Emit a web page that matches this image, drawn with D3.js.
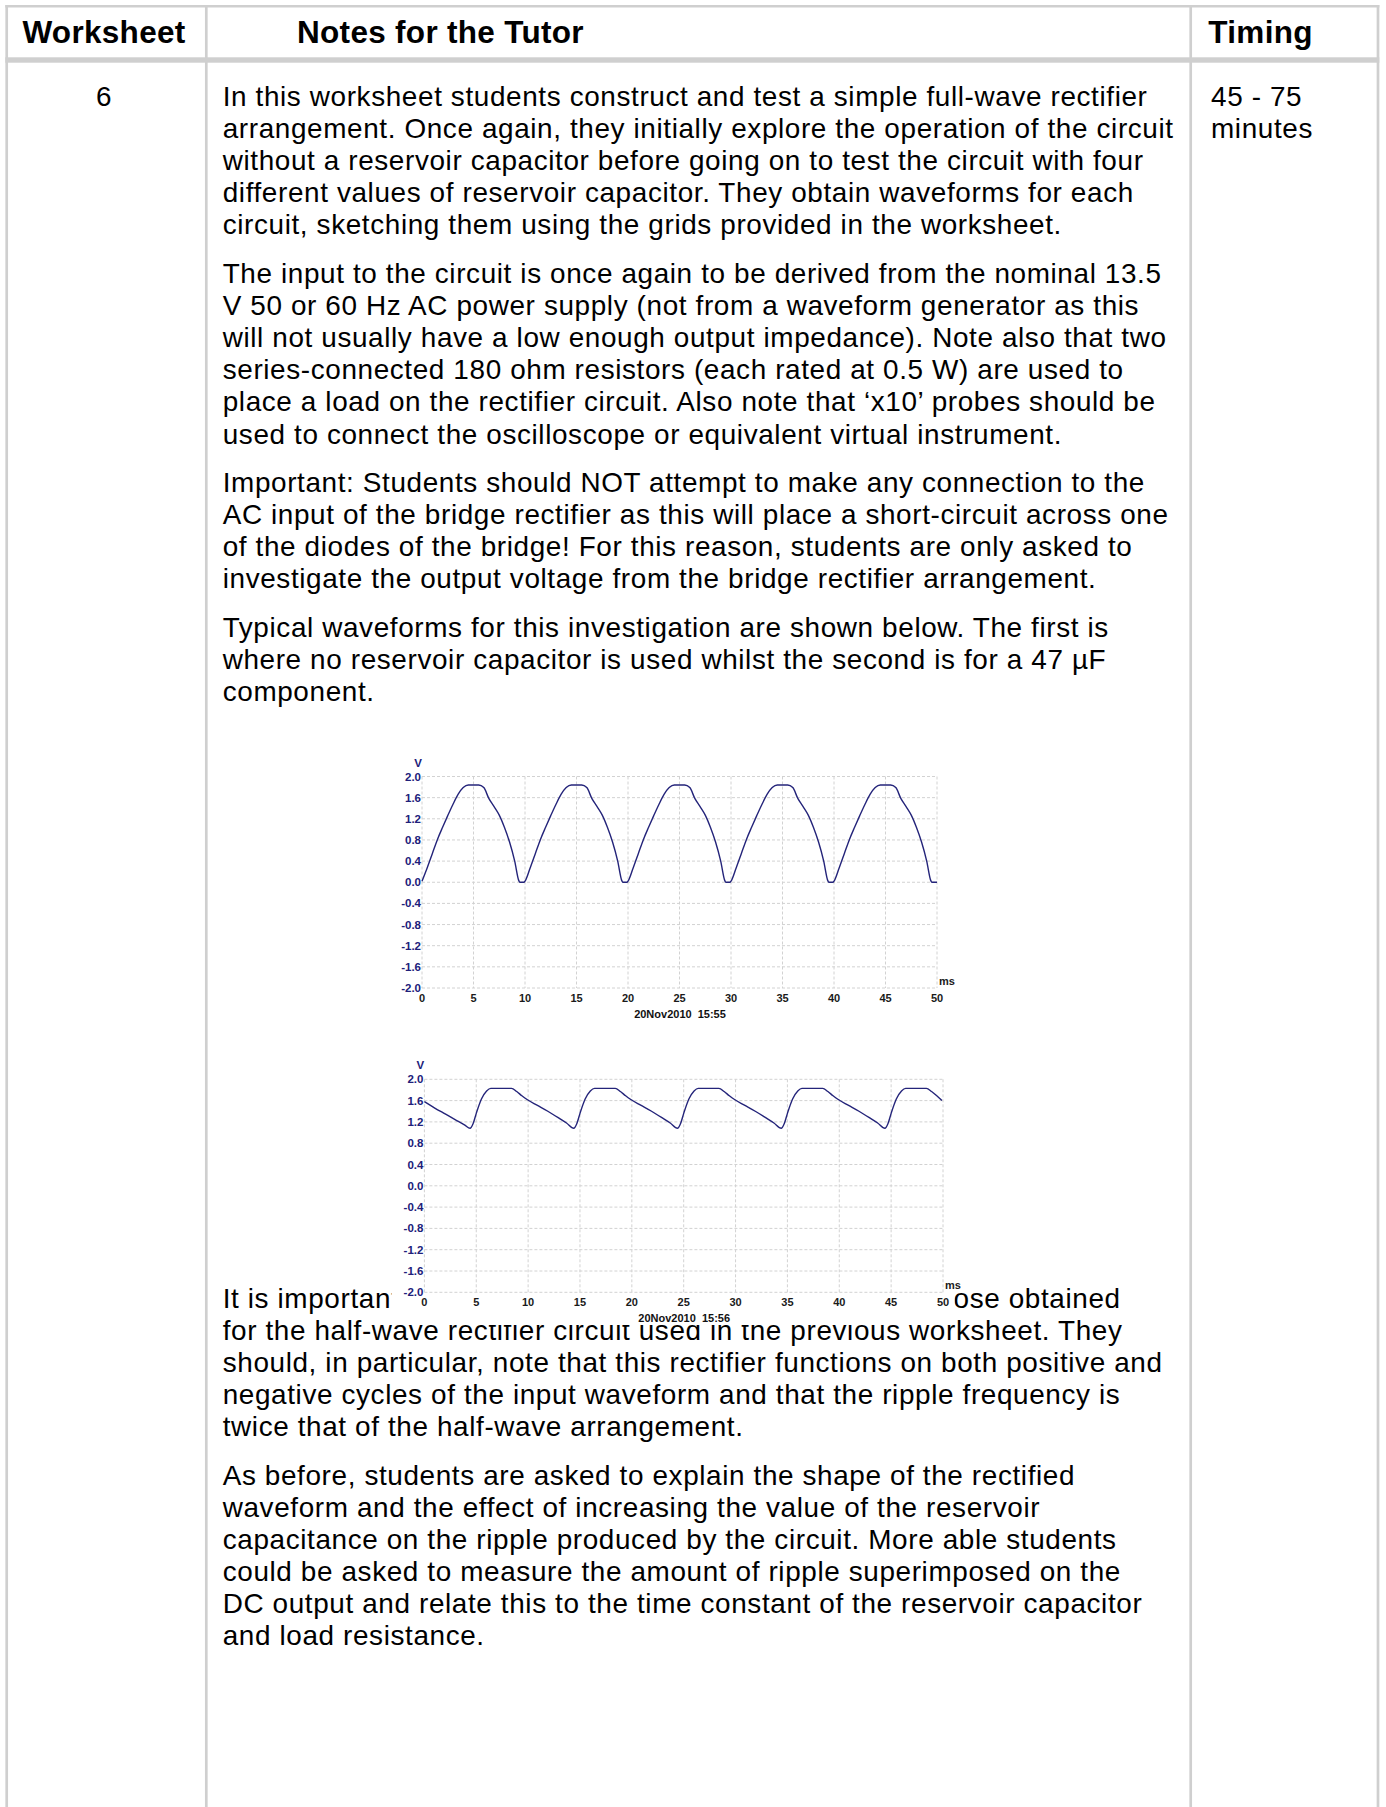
<!DOCTYPE html>
<html>
<head>
<meta charset="utf-8" />
<title>Worksheet 6 - Notes for the Tutor</title>
<script src="https://d3js.org/d3.v7.min.js"></script>
<style>
  body { margin: 0; background: #fff; }
  svg text { font-family: "Liberation Sans", Arial, sans-serif; }
  .body-text { font-size: 27.9px; letter-spacing: 0.62px; fill: #000; }
  .head-text { font-size: 31.5px; letter-spacing: 0.3px; font-weight: bold; fill: #000; }
  .tick-y { font-size: 11.5px; font-weight: bold; fill: #20207a; }
  .tick-x { font-size: 11px; font-weight: bold; fill: #1a1a1a; }
  .scope-note { font-size: 11px; font-weight: bold; fill: #111; }
</style>
</head>
<body>
<div id="page"></div>

<script>
// ---- text of the table ----
var headers = ["Worksheet", "Notes for the Tutor", "Timing"];
var worksheetNo = "6";
var timingLines = ["45 - 75", "minutes"];

var paraTop = [
  ["In this worksheet students construct and test a simple full-wave rectifier",
   "arrangement. Once again, they initially explore the operation of the circuit",
   "without a reservoir capacitor before going on to test the circuit with four",
   "different values of reservoir capacitor. They obtain waveforms for each",
   "circuit, sketching them using the grids provided in the worksheet."],
  ["The input to the circuit is once again to be derived from the nominal 13.5",
   "V 50 or 60 Hz AC power supply (not from a waveform generator as this",
   "will not usually have a low enough output impedance). Note also that two",
   "series-connected 180 ohm resistors (each rated at 0.5 W) are used to",
   "place a load on the rectifier circuit. Also note that \u2018x10\u2019 probes should be",
   "used to connect the oscilloscope or equivalent virtual instrument."],
  ["Important: Students should NOT attempt to make any connection to the",
   "AC input of the bridge rectifier as this will place a short-circuit across one",
   "of the diodes of the bridge! For this reason, students are only asked to",
   "investigate the output voltage from the bridge rectifier arrangement."],
  ["Typical waveforms for this investigation are shown below. The first is",
   "where no reservoir capacitor is used whilst the second is for a 47 \u00b5F",
   "component."]
];

// first line of this block is partly hidden by the second scope picture
var hiddenLineLeft = "It is important";
var hiddenLineRight = "those obtained";
var paraBottom = [
  ["for the half-wave rectifier circuit used in the previous worksheet. They",
   "should, in particular, note that this rectifier functions on both positive and",
   "negative cycles of the input waveform and that the ripple frequency is",
   "twice that of the half-wave arrangement."],
  ["As before, students are asked to explain the shape of the rectified",
   "waveform and the effect of increasing the value of the reservoir",
   "capacitance on the ripple produced by the circuit. More able students",
   "could be asked to measure the amount of ripple superimposed on the",
   "DC output and relate this to the time constant of the reservoir capacitor",
   "and load resistance."]
];

// ---- oscilloscope data (ms, V) ----
var xTicks = [0, 5, 10, 15, 20, 25, 30, 35, 40, 45, 50];
var yTicks = [2.0, 1.6, 1.2, 0.8, 0.4, 0.0, -0.4, -0.8, -1.2, -1.6, -2.0];

// no reservoir capacitor
var timeA = [
  0, 0.5, 1, 1.5, 2, 2.5, 3, 3.5, 4, 4.5, 5.5, 6, 6.5, 7, 7.5, 8, 8.5, 9, 9.4, 9.5, 9.9,
  10, 10.5, 11, 11.5, 12, 12.5, 13, 13.5, 14, 14.5, 15.5, 16, 16.5, 17, 17.5, 18, 18.5, 19, 19.4, 19.5, 19.9,
  20, 20.5, 21, 21.5, 22, 22.5, 23, 23.5, 24, 24.5, 25.5, 26, 26.5, 27, 27.5, 28, 28.5, 29, 29.4, 29.5, 29.9,
  30, 30.5, 31, 31.5, 32, 32.5, 33, 33.5, 34, 34.5, 35.5, 36, 36.5, 37, 37.5, 38, 38.5, 39, 39.4, 39.5, 39.9,
  40, 40.5, 41, 41.5, 42, 42.5, 43, 43.5, 44, 44.5, 45.5, 46, 46.5, 47, 47.5, 48, 48.5, 49, 49.4, 49.5, 50
];
var voltA = [
  0.02, 0.27, 0.54, 0.81, 1.04, 1.26, 1.47, 1.66, 1.79, 1.84, 1.84, 1.79, 1.58, 1.43, 1.27, 1.04, 0.76, 0.40, 0.03, 0.00, 0.00,
  0.02, 0.27, 0.54, 0.81, 1.04, 1.26, 1.47, 1.66, 1.79, 1.84, 1.84, 1.79, 1.58, 1.43, 1.27, 1.04, 0.76, 0.40, 0.03, 0.00, 0.00,
  0.02, 0.27, 0.54, 0.81, 1.04, 1.26, 1.47, 1.66, 1.79, 1.84, 1.84, 1.79, 1.58, 1.43, 1.27, 1.04, 0.76, 0.40, 0.03, 0.00, 0.00,
  0.02, 0.27, 0.54, 0.81, 1.04, 1.26, 1.47, 1.66, 1.79, 1.84, 1.84, 1.79, 1.58, 1.43, 1.27, 1.04, 0.76, 0.40, 0.03, 0.00, 0.00,
  0.02, 0.27, 0.54, 0.81, 1.04, 1.26, 1.47, 1.66, 1.79, 1.84, 1.84, 1.79, 1.58, 1.43, 1.27, 1.04, 0.76, 0.40, 0.03, 0.00, 0.00
];

// 47 uF reservoir capacitor
var timeB = [
  0, 1, 2, 3, 3.9,
  4.4, 4.7, 5.0, 5.5, 6.0, 6.4, 8.4, 8.9, 9.4, 9.9, 10.9, 11.9, 12.9, 13.7,
  14.4, 14.7, 15.0, 15.5, 16.0, 16.4, 18.4, 18.9, 19.4, 19.9, 20.9, 21.9, 22.9, 23.7,
  24.4, 24.7, 25.0, 25.5, 26.0, 26.4, 28.4, 28.9, 29.4, 29.9, 30.9, 31.9, 32.9, 33.7,
  34.4, 34.7, 35.0, 35.5, 36.0, 36.4, 38.4, 38.9, 39.4, 39.9, 40.9, 41.9, 42.9, 43.7,
  44.4, 44.7, 45.0, 45.5, 46.0, 46.4, 48.4, 48.9, 49.4, 49.9, 50
];
var voltB = [
  1.58, 1.46, 1.35, 1.24, 1.14,
  1.08, 1.17, 1.36, 1.63, 1.78, 1.83, 1.83, 1.77, 1.69, 1.62, 1.51, 1.40, 1.28, 1.18,
  1.08, 1.17, 1.36, 1.63, 1.78, 1.83, 1.83, 1.77, 1.69, 1.62, 1.51, 1.40, 1.28, 1.18,
  1.08, 1.17, 1.36, 1.63, 1.78, 1.83, 1.83, 1.77, 1.69, 1.62, 1.51, 1.40, 1.28, 1.18,
  1.08, 1.17, 1.36, 1.63, 1.78, 1.83, 1.83, 1.77, 1.69, 1.62, 1.51, 1.40, 1.28, 1.18,
  1.08, 1.17, 1.36, 1.63, 1.78, 1.83, 1.83, 1.77, 1.69, 1.60
];

var W = 1386, H = 1807;
var svg = d3.select("#page").append("svg")
  .attr("width", W)
  .attr("height", H);

// ---- table grid ----
var border = "#cfcfcf";
var colX = [6.7, 206.3, 1190.7, 1378];
colX.forEach(function(x) {
  svg.append("line")
    .attr("x1", x).attr("x2", x)
    .attr("y1", 5).attr("y2", H)
    .style("stroke", border).style("stroke-width", 2.7);
});
svg.append("line")
  .attr("x1", 5.3).attr("x2", 1379.4)
  .attr("y1", 6.2).attr("y2", 6.2)
  .style("stroke", border).style("stroke-width", 2.6);
svg.append("rect")
  .attr("x", 5.3).attr("width", 1374)
  .attr("y", 57.3).attr("height", 5.4)
  .style("fill", border);

// ---- header row ----
svg.append("text").attr("class", "head-text")
  .attr("x", 104).attr("y", 43.3).attr("text-anchor", "middle").text(headers[0]);
svg.append("text").attr("class", "head-text")
  .attr("x", 297).attr("y", 43.3).text(headers[1]);
svg.append("text").attr("class", "head-text")
  .attr("x", 1208.3).attr("y", 43.3).text(headers[2]);

// ---- first & last column ----
svg.append("text").attr("class", "body-text")
  .attr("x", 104).attr("y", 106).attr("text-anchor", "middle").text(worksheetNo);
svg.append("g").selectAll("text")
  .data(timingLines).enter().append("text")
  .attr("class", "body-text")
  .attr("x", 1211)
  .attr("y", function(d, i) { return 106 + i * 32.1; })
  .text(function(d) { return d; });

// ---- notes column paragraphs ----
var lineH = 32.1, paraGap = 16.5, textX = 222.7;
function writeParas(paras, startY) {
  var y = startY;
  paras.forEach(function(lines) {
    lines.forEach(function(line) {
      svg.append("text").attr("class", "body-text")
        .attr("x", textX).attr("y", y).text(line);
      y += lineH;
    });
    y += paraGap;
  });
}
writeParas(paraTop, 106);

var bottomY = 1307.7;
svg.append("text").attr("class", "body-text")
  .attr("x", textX).attr("y", bottomY).text(hiddenLineLeft);
svg.append("text").attr("class", "body-text")
  .attr("x", 929).attr("y", bottomY).text(hiddenLineRight);
writeParas(paraBottom, bottomY + lineH);

// ---- oscilloscope pictures ----
function scope(box, plot, times, volts, stamp) {
  var g = svg.append("g");

  // the picture sits on white and hides the text beneath it
  g.append("rect")
    .attr("x", box.x).attr("y", box.y)
    .attr("width", box.w).attr("height", box.h)
    .style("fill", "#fff");

  var x = d3.scaleLinear().domain([0, 50]).range([plot.left, plot.right]);
  var y = d3.scaleLinear().domain([-2, 2]).range([plot.bottom, plot.top]);

  // dashed grid
  g.append("g").selectAll("line")
    .data(xTicks).enter().append("line")
    .attr("x1", function(d) { return x(d); }).attr("x2", function(d) { return x(d); })
    .attr("y1", plot.top).attr("y2", plot.bottom)
    .style("stroke", "#d2d2d2").style("stroke-dasharray", "3,2");
  g.append("g").selectAll("line")
    .data(yTicks).enter().append("line")
    .attr("x1", plot.left).attr("x2", plot.right)
    .attr("y1", function(d) { return y(d); }).attr("y2", function(d) { return y(d); })
    .style("stroke", "#d2d2d2").style("stroke-dasharray", "3,2");

  // tick labels
  g.append("g").selectAll("text")
    .data(yTicks).enter().append("text")
    .attr("class", "tick-y")
    .attr("x", plot.left - 1)
    .attr("y", function(d) { return y(d) + 4; })
    .attr("text-anchor", "end")
    .text(function(d) { return d3.format(".1f")(d).replace("\u2212", "-"); });
  g.append("g").selectAll("text")
    .data(xTicks).enter().append("text")
    .attr("class", "tick-x")
    .attr("x", function(d) { return x(d); })
    .attr("y", plot.bottom + 13.5)
    .attr("text-anchor", "middle")
    .text(function(d) { return d; });

  g.append("text").attr("class", "tick-y")
    .attr("x", plot.left - 4).attr("y", plot.top - 10)
    .attr("text-anchor", "middle").text("V");
  g.append("text").attr("class", "tick-x")
    .attr("x", plot.right + 10).attr("y", plot.bottom - 3)
    .attr("text-anchor", "middle").text("ms");
  g.append("text").attr("class", "scope-note")
    .attr("x", (plot.left + plot.right) / 2 + 0.5).attr("y", plot.bottom + 30)
    .attr("text-anchor", "middle")
    .style("white-space", "pre")
    .text(stamp);

  // trace
  var line = d3.line()
    .x(function(d) { return x(d[0]); })
    .y(function(d) { return y(d[1]); })
    .curve(d3.curveMonotoneX);
  g.append("path")
    .datum(d3.zip(times, volts))
    .attr("d", line)
    .style("fill", "none")
    .style("stroke", "#24247a")
    .style("stroke-width", 1.4);
}

scope({x: 391.5, y: 740, w: 563, h: 290},
      {left: 422, right: 937, top: 776.5, bottom: 988},
      timeA, voltA, "20Nov2010  15:55");
scope({x: 391.5, y: 1040, w: 563, h: 285},
      {left: 424.4, right: 943, top: 1079.3, bottom: 1292.3},
      timeB, voltB, "20Nov2010  15:56");
</script>
</body>
</html>
